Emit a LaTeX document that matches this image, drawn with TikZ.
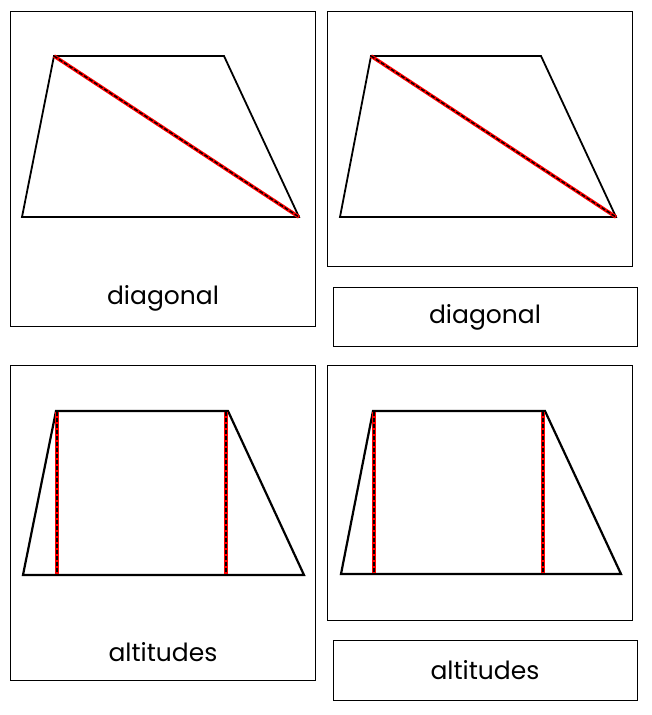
\documentclass[tikz,border=0pt]{standalone}
\usepackage{fontspec}
\setmainfont{Poppins}
\tikzset{
  card/.style={draw, line width=0.9pt},
  trap/.style={draw, line width=2.2pt, line join=miter},
  redline/.style={draw=red, line width=3.6pt},
  dashline/.style={draw=black, line width=1.4pt, dash pattern=on 4pt off 2pt},
  cardtext/.style={font=\fontsize{25}{28}\selectfont}
}
\begin{document}
\begin{tikzpicture}[x=1pt,y=-1pt]
\useasboundingbox (0,0) rectangle (652,715);

% cards
\draw[card] (10,11) rectangle (315,326);
\draw[card] (327,11) rectangle (632,266);
\draw[card] (333,287) rectangle (637,346);
\draw[card] (10,365) rectangle (315,680);
\draw[card] (327,365) rectangle (632,620);
\draw[card] (333,640) rectangle (637,700);

% diagonal, with text
\coordinate (a1) at (54,56);
\coordinate (b1) at (224,56);
\coordinate (c1) at (299,217);
\coordinate (d1) at (22,217);
\draw[trap, line width=1.8pt] (a1) -- (b1) -- (c1) -- (d1) -- cycle;
\draw[redline] (a1) -- (c1);
\draw[dashline] (a1) -- (c1);
\node[cardtext] (diag1) at (163,298) {diagonal};

% diagonal, picture only
\coordinate (a2) at (371,56);
\coordinate (b2) at (541,56);
\coordinate (c2) at (616,217);
\coordinate (d2) at (340,217);
\draw[trap, line width=1.8pt] (a2) -- (b2) -- (c2) -- (d2) -- cycle;
\draw[redline] (a2) -- (c2);
\draw[dashline] (a2) -- (c2);
\node[cardtext] (diag2) at (485,317) {diagonal};

% altitudes, with text
\coordinate (a3) at (56,411);
\coordinate (b3) at (228,411);
\coordinate (c3) at (304,575);
\coordinate (d3) at (23,575);
\draw[trap] (a3) -- (b3) -- (c3) -- (d3) -- cycle;
\coordinate (h3a) at (57,412);
\coordinate (f3a) at (57,574);
\coordinate (h3b) at (226,412);
\coordinate (f3b) at (226,574);
\draw[redline, line width=3.2pt] (h3a) -- (f3a);
\draw[redline, line width=3.2pt] (h3b) -- (f3b);
\draw[dashline, line width=1.2pt] (h3a) -- (f3a);
\draw[dashline, line width=1.2pt] (h3b) -- (f3b);
\node[cardtext] (alt1) at (163,652) {altitudes};

% altitudes, picture only
\coordinate (a4) at (373,411);
\coordinate (b4) at (545,411);
\coordinate (c4) at (621,574);
\coordinate (d4) at (341,574);
\draw[trap] (a4) -- (b4) -- (c4) -- (d4) -- cycle;
\coordinate (h4a) at (374,412);
\coordinate (f4a) at (374,573);
\coordinate (h4b) at (543,412);
\coordinate (f4b) at (543,573);
\draw[redline, line width=3.2pt] (h4a) -- (f4a);
\draw[redline, line width=3.2pt] (h4b) -- (f4b);
\draw[dashline, line width=1.2pt] (h4a) -- (f4a);
\draw[dashline, line width=1.2pt] (h4b) -- (f4b);
\node[cardtext] (alt2) at (485,670) {altitudes};
\end{tikzpicture}
\end{document}
